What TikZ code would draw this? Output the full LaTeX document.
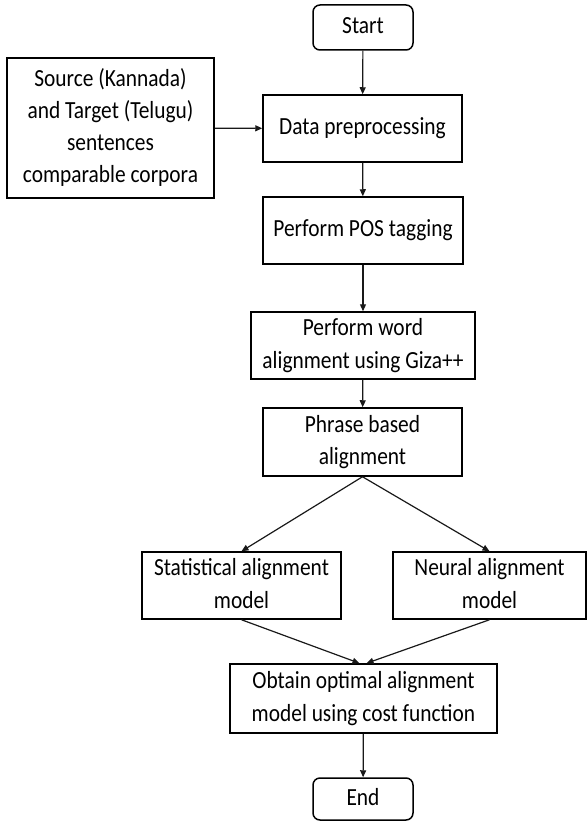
\documentclass[tikz,border=0pt]{standalone}
\usepackage{fontspec}
\setmainfont{Carlito}
\usepackage{graphicx}
\usetikzlibrary{arrows.meta}
\newcommand\tx[1]{\scalebox{1}[1.15]{\begin{tabular}{@{}c@{}}#1\end{tabular}}}
\begin{document}
\begin{tikzpicture}[x=1pt,y=-1pt,
  box/.style={draw=black, line width=1.5pt, inner sep=0pt, align=center,
    font=\fontsize{21.4}{28}\selectfont},
  term/.style={box, rounded corners=7pt},
  conn/.style={draw=black!90, line width=1.2pt, -{Triangle[length=7pt,width=6pt]}}]
\useasboundingbox (0,0) rectangle (587,821);
\node[term, minimum width=100pt, minimum height=45pt] (start) at (363,27.5) {\tx{Start}};
\node[box, minimum width=199pt, minimum height=67pt] (dp) at (362.5,128.5) {\tx{Data preprocessing}};
\node[box, minimum width=207pt, minimum height=140pt] (src) at (110.5,128) {\tx{Source (Kannada)\\and Target (Telugu)\\sentences\\comparable corpora}};
\node[box, minimum width=200pt, minimum height=67pt] (pos) at (363,230.5) {\tx{Perform POS tagging}};
\node[box, minimum width=224pt, minimum height=67pt] (word) at (363,345.5) {\tx{Perform word\\alignment using Giza++}};
\node[box, minimum width=199pt, minimum height=68pt] (phr) at (362.5,442) {\tx{Phrase based\\alignment}};
\node[box, minimum width=199pt, minimum height=67pt] (stat) at (241.5,585.5) {\tx{Statistical alignment\\model}};
\node[box, minimum width=193pt, minimum height=67pt] (neur) at (489.5,585.5) {\tx{Neural alignment\\model}};
\node[box, minimum width=267pt, minimum height=69pt] (obt) at (363.5,698.5) {\tx{Obtain optimal alignment\\model using cost function}};
\node[term, minimum width=100pt, minimum height=42pt] (end) at (363,799) {\tx{End}};
\coordinate (o1) at ([xshift=-4pt]obt.north);
\coordinate (o2) at ([xshift=3pt]obt.north);
\draw[conn] (start) -- (dp);
\draw[conn] (src) -- (dp);
\draw[conn] (dp) -- (pos);
\draw[conn] (pos) -- (word);
\draw[conn] (word) -- (phr);
\draw[conn] (phr.south) -- (stat.north);
\draw[conn] (phr.south) -- (neur.north);
\draw[conn] (stat.south) -- (o1);
\draw[conn] (neur.south) -- (o2);
\draw[conn] (obt) -- (end);
\end{tikzpicture}
\end{document}
